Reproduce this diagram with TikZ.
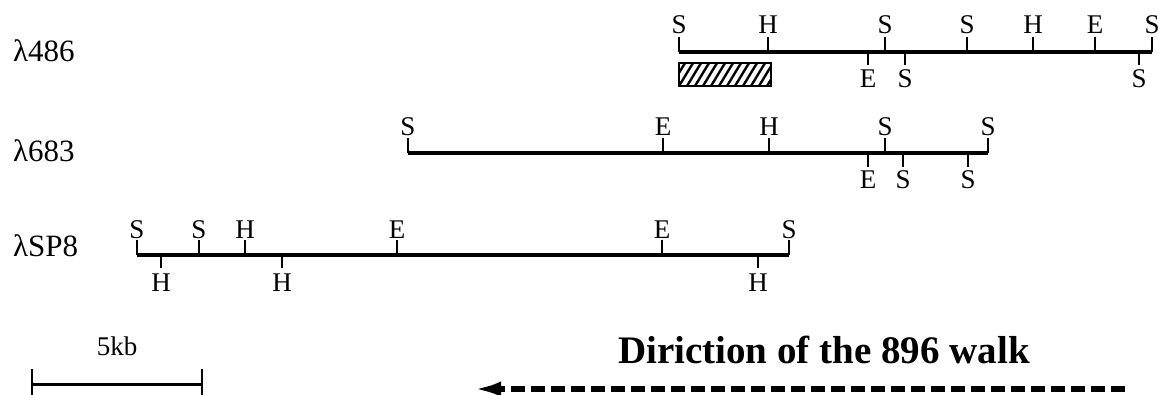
\documentclass[tikz,border=0pt]{standalone}
\usepackage{fontspec}
\setmainfont{Liberation Serif}
\usetikzlibrary{arrows.meta}
\begin{document}
\begin{tikzpicture}[x=1pt,y=-1pt,
  mapline/.style={line width=3.2pt},
  sitetick/.style={line width=1.8pt},
  sitelabel/.style={inner sep=0pt,font=\fontsize{27}{27}\selectfont},
  clonename/.style={inner sep=0pt,anchor=base west,font=\fontsize{31}{31}\selectfont},
  hatchbox/.style={draw,line width=2pt,inner sep=0pt,
    minimum width=92pt,minimum height=23pt,
    path picture={
      \foreach \k in {-70,-62,...,80}
        \draw[line width=2.4pt] ([xshift=\k pt]path picture bounding box.south)
          -- ++(14pt,23pt);
    }},
  walkarrow/.style={line width=6pt,dash pattern=on 14pt off 6pt,
    -{Latex[length=28pt,width=15pt]}},
  barline/.style={line width=3pt},
  bartick/.style={line width=2pt}]

\useasboundingbox (0,0) rectangle (1161,395);

% ---------- clone lambda486 ----------
\node[clonename] (n486) at (13,62) {λ486};
\coordinate (c486w) at (679,52);
\coordinate (c486e) at (1152,52);
\draw[mapline] (c486w) -- (c486e);
\foreach \x/\t [count=\i] in {679/S,768/H,885/S,967/S,1033/H,1095/E,1152/S}
  \draw[sitetick] (\x,52) -- ++(0,-15)
    node[sitelabel,anchor=base,yshift=3pt] (t486-\i) {\t};
\foreach \x/\t [count=\i] in {868/E,905/S,1139/S}
  \draw[sitetick] (\x,52) -- ++(0,13)
    node[sitelabel,anchor=base,yshift=-23pt] (b486-\i) {\t};
\node[hatchbox] (probe) at (725,74.5) {};

% ---------- clone lambda683 ----------
\node[clonename] (n683) at (13,162) {λ683};
\coordinate (c683w) at (408,153);
\coordinate (c683e) at (988,153);
\draw[mapline] (c683w) -- (c683e);
\foreach \x/\t [count=\i] in {408/S,663/E,769/H,885/S,988/S}
  \draw[sitetick] (\x,153) -- ++(0,-15)
    node[sitelabel,anchor=base,yshift=2pt] (t683-\i) {\t};
\foreach \x/\t [count=\i] in {868/E,903/S,968/S}
  \draw[sitetick] (\x,153) -- ++(0,14)
    node[sitelabel,anchor=base,yshift=-22pt] (b683-\i) {\t};

% ---------- clone lambdaSP8 ----------
\node[clonename] (nsp8) at (13,257) {λSP8};
\coordinate (csp8w) at (137,255);
\coordinate (csp8e) at (789,255);
\draw[mapline] (csp8w) -- (csp8e);
\foreach \x/\t [count=\i] in {137/S,199/S,245/H,397/E,662/E,789/S}
  \draw[sitetick] (\x,255) -- ++(0,-15)
    node[sitelabel,anchor=base,yshift=1pt] (tsp8-\i) {\t};
\foreach \x/\t [count=\i] in {161/H,282/H,758/H}
  \draw[sitetick] (\x,255) -- ++(0,13)
    node[sitelabel,anchor=base,yshift=-23pt] (bsp8-\i) {\t};

% ---------- scale bar ----------
\node[inner sep=0pt,anchor=base,font=\fontsize{27}{27}\selectfont] (kb) at (117,355) {5kb};
\coordinate (barw) at (32,384);
\coordinate (bare) at (202,384);
\draw[barline] (barw) -- (bare);
\draw[bartick] (32,369) -- (32,395);
\draw[bartick] (202,369) -- (202,395);

% ---------- direction of the walk ----------
\node[inner sep=0pt,anchor=base,font=\bfseries\fontsize{39}{39}\selectfont]
  (walk) at (824,363) {Diriction of the 896 walk};
\coordinate (walkstart) at (1125,389);
\coordinate (walkend) at (473,389);
\draw[walkarrow] (walkstart) -- (walkend);
\end{tikzpicture}
\end{document}
